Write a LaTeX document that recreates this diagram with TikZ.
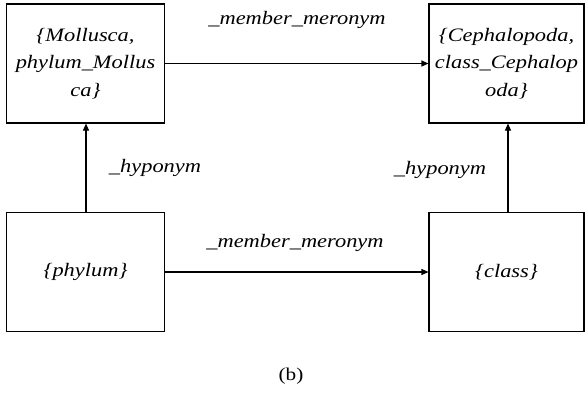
\documentclass[tikz,border=0pt]{standalone}
\usepackage{fontspec}
\setmainfont{Liberation Serif}
\usetikzlibrary{arrows.meta}
\newcommand{\widen}[1]{\scalebox{1.18}[1]{#1}}
\begin{document}
\begin{tikzpicture}[x=1pt,y=-1pt,
  box/.style={draw,line width=1.1pt,minimum width=#1,minimum height=119pt,inner sep=0pt,align=center,
    font=\fontsize{19}{27.5}\selectfont\itshape},
  box/.default=158pt,
  lbl/.style={font=\fontsize{19}{21}\selectfont\itshape,inner sep=0pt},
  arr/.style={line width=1.1pt,-{Triangle[length=7pt,width=6pt]}}]
\useasboundingbox (0,0) rectangle (585,394);
\node[box] (tl) at (85.5,63.5) {\widen{\{Mollusca,}\\\widen{phylum\_Mollus}\\\widen{ca\}}};
\node[box=155pt] (tr) at (506.5,63.5) {\widen{\{Cephalopoda,}\\\widen{class\_Cephalop}\\\widen{oda\}}};
\node[box] (bl) at (85.5,272) {\widen{\{phylum\}}};
\node[box=155pt] (br) at (506.5,272) {\widen{\{class\}}};
\draw[arr] (tl.east) -- (tr.west);
\draw[arr] (bl.east) -- (br.west);
\draw[arr] (bl.north -| 86,0) -- (tl.south -| 86,0);
\draw[arr] (br.north -| 508,0) -- (tr.south -| 508,0);
\node[lbl] (m1) at (297,20) {\widen{\_member\_meronym}};
\node[lbl] (m2) at (295,243) {\widen{\_member\_meronym}};
\node[lbl] (h1) at (155,168) {\widen{\_hyponym}};
\node[lbl] (h2) at (440,170) {\widen{\_hyponym}};
\node[font=\fontsize{18}{20}\selectfont,inner sep=0pt] (cap) at (291,376) {\widen{(b)}};
\end{tikzpicture}
\end{document}
